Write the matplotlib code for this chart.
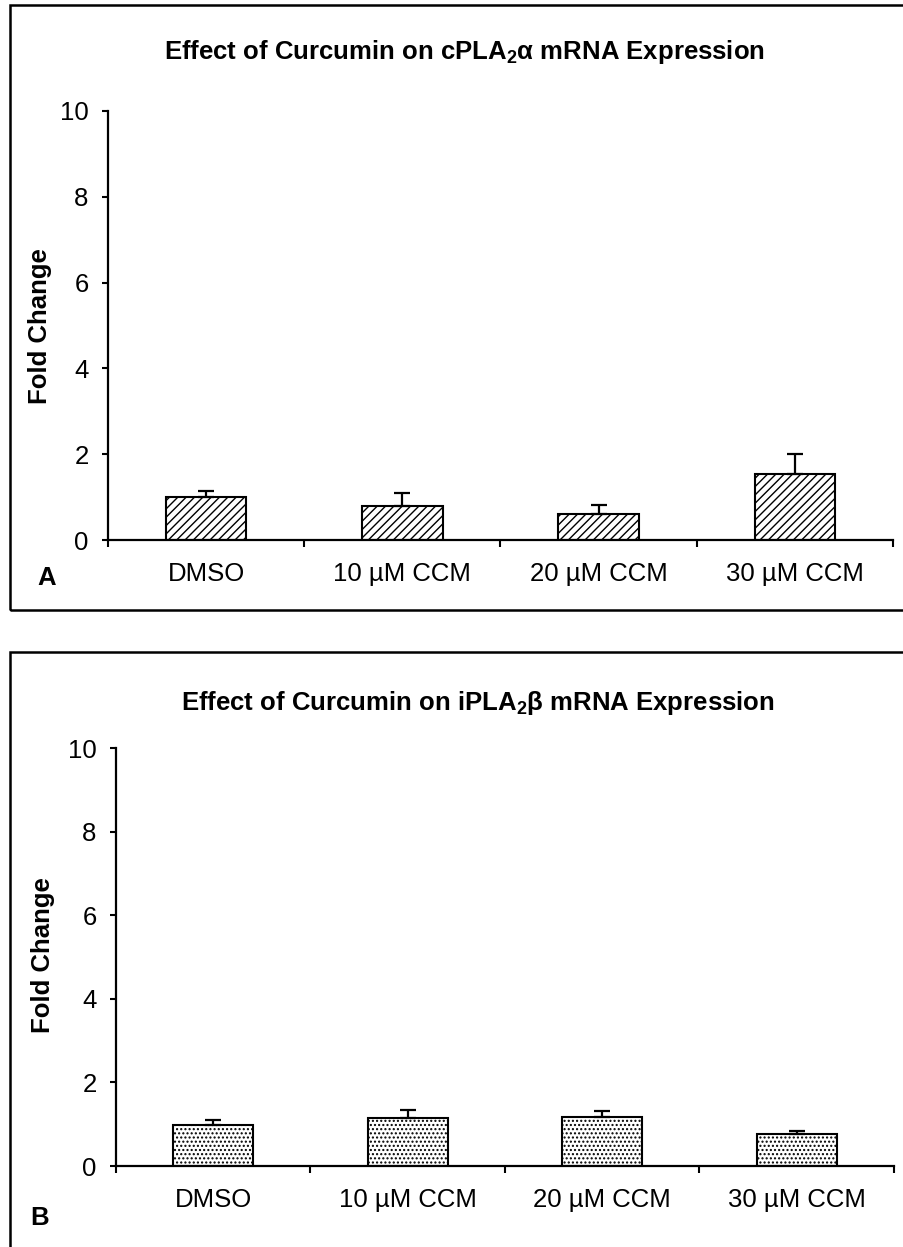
import matplotlib
matplotlib.use("Agg")
import matplotlib.pyplot as plt
from matplotlib.patches import Rectangle

plt.rcParams['font.family'] = ['Liberation Sans', 'DejaVu Sans']
plt.rcParams['mathtext.fontset'] = 'custom'
plt.rcParams['mathtext.rm'] = 'Liberation Sans:bold'
plt.rcParams['mathtext.bf'] = 'Liberation Sans:bold'
plt.rcParams['hatch.linewidth'] = 1.0

categories = ['DMSO', '10 µM CCM', '20 µM CCM', '30 µM CCM']
cpla_values = [1.00, 0.79, 0.61, 1.55]
cpla_err = [0.15, 0.30, 0.20, 0.46]
ipla_values = [0.99, 1.15, 1.17, 0.76]
ipla_err = [0.10, 0.19, 0.14, 0.08]
yticks = [0, 2, 4, 6, 8, 10]

W, H = 904, 1247
fig = plt.figure(figsize=(W / 100, H / 100), dpi=100)

FS = 18.5


def fx(px):
    return px / W


def fy(py):
    return 1 - py / H


def panel(ax_box, values, errs, hatch, title, title_xy, ylab_xy, letter, letter_xy, frame):
    x0, x1, ytop, ybot = ax_box
    ax = fig.add_axes([fx(x0), fy(ybot), fx(x1) - fx(x0), fy(ytop) - fy(ybot)])
    pos = list(range(len(categories)))
    ax.bar(pos, values, width=0.41, color='white', edgecolor='black',
           linewidth=1.5, hatch=hatch, zorder=2)
    ax.errorbar(pos, values, yerr=[[0] * len(errs), errs], fmt='none',
                ecolor='black', elinewidth=1.6, capsize=6, capthick=1.6, zorder=3)
    ax.set_xlim(-0.5, len(categories) - 0.5)
    ax.set_ylim(0, 10)
    ax.set_yticks(yticks)
    ax.set_yticklabels([str(t) for t in yticks], fontsize=FS)
    ax.set_xticks(pos)
    ax.set_xticklabels(categories, fontsize=FS)
    ax.set_xticks([p - 0.5 for p in pos] + [len(categories) - 0.5], minor=True)
    ax.tick_params(axis='x', which='major', length=0, pad=16)
    ax.tick_params(axis='x', which='minor', length=5, width=1.5, direction='out')
    ax.tick_params(axis='y', length=4, width=1.5, direction='out', pad=10)
    for s in ['top', 'right']:
        ax.spines[s].set_visible(False)
    for s in ['left', 'bottom']:
        ax.spines[s].set_linewidth(1.6)
    fig.text(fx(title_xy[0]), fy(title_xy[1]), title, fontsize=FS, fontweight='bold',
             ha='center', va='center')
    fig.text(fx(ylab_xy[0]), fy(ylab_xy[1]), 'Fold Change', fontsize=FS, fontweight='bold',
             rotation=90, ha='center', va='center')
    fig.text(fx(letter_xy[0]), fy(letter_xy[1]), letter, fontsize=FS, fontweight='bold',
             ha='center', va='center')
    fx0, fy0, fx1, fy1 = frame
    fig.patches.append(Rectangle((fx(fx0), fy(fy1)), fx(fx1) - fx(fx0), fy(fy0) - fy(fy1),
                                 transform=fig.transFigure, fill=False,
                                 edgecolor='black', linewidth=1.8))
    return ax


panel((108, 893, 111, 540), cpla_values, cpla_err, '////',
      r'Effect of Curcumin on cPLA$_\mathbf{2}$α mRNA Expression',
      (464, 52), (40, 326), 'A', (47, 578), (10, 5, 925, 610))
panel((116, 894, 748, 1166), ipla_values, ipla_err, '....',
      r'Effect of Curcumin on iPLA$_\mathbf{2}$β mRNA Expression',
      (478, 703), (43, 955), 'B', (40, 1218), (10, 652, 925, 1270))

fig.savefig('out.png', dpi=100)
